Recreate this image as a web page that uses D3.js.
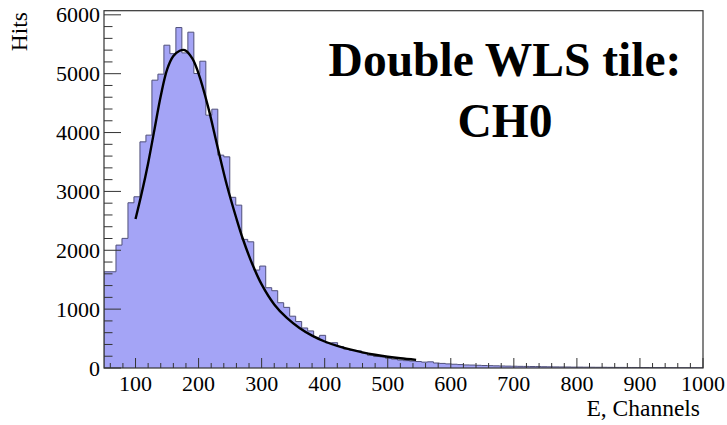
<!DOCTYPE html>
<html>
<head>
<meta charset="utf-8">
<script src="https://cdn.jsdelivr.net/npm/d3@7"></script>
<style>
  body { margin: 0; background: #fff; }
  svg { display: block; }
  text { font-family: "Liberation Serif", "Times New Roman", serif; fill: #000; }
</style>
</head>
<body>
<script>
// histogram: 100 bins of width 9.5 from 50 to 1000
let binStart = 50;
let binWidth = 9.5;
let counts = [
  1635, 1635, 2088, 2202, 2807, 2909, 3842, 3956, 4890, 4992,
  5484, 5340, 5784, 5353, 5705, 5003, 5212, 4295, 4397, 3616,
  3587, 2900, 2767, 2185, 2144, 1664, 1732, 1364, 1313, 1109,
  1030, 880, 790, 680, 630, 521, 555, 425, 430, 365,
  320, 300, 290, 255, 215, 195, 190, 165, 150, 135,
  125, 118, 110, 100, 105, 85, 78, 70, 64, 58,
  52, 50, 46, 42, 40, 37, 34, 32, 30, 28,
  27, 25, 24, 22, 20, 19, 18, 17, 15, 15,
  14, 13, 12, 12, 11, 10, 10, 9, 9, 8,
  8, 7, 7, 7, 6, 6, 5, 5, 5, 4
];

// fit curve
let fitX = [100, 110, 120, 130, 140, 150, 160, 170, 178, 190, 200, 215, 230, 245, 260, 270, 285, 300, 320, 340, 360, 380, 400, 420, 440, 460, 480, 500, 520, 545];
let fitY = [2530, 2980, 3480, 4050, 4620, 5070, 5300, 5390, 5400, 5260, 5000, 4440, 3760, 3100, 2540, 2200, 1770, 1420, 1080, 850, 680, 550, 450, 375, 315, 265, 225, 192, 165, 138];

let xTicks = [100, 200, 300, 400, 500, 600, 700, 800, 900, 1000];
let yTicks = [0, 1000, 2000, 3000, 4000, 5000, 6000];

let W = 727, H = 425;
let frame = { left: 104, right: 703, top: 10.7, bottom: 368 };

let svg = d3.select('body').append('svg').attr('width', W).attr('height', H);

let x = d3.scaleLinear().domain([50, 1000]).range([frame.left, frame.right]);
let y = d3.scaleLinear().domain([0, 6070]).range([frame.bottom, frame.top]);

svg.append('clipPath').attr('id', 'frameClip').append('rect')
  .attr('x', frame.left).attr('y', frame.top)
  .attr('width', frame.right - frame.left).attr('height', frame.bottom - frame.top);

// step outline of the histogram
let pts = [[x(binStart), y(0)]];
counts.forEach(function(c, i) {
  let x0 = binStart + i * binWidth;
  pts.push([x(x0), y(c)]);
  pts.push([x(x0 + binWidth), y(c)]);
});
pts.push([x(binStart + counts.length * binWidth), y(0)]);

let plot = svg.append('g').attr('clip-path', 'url(#frameClip)');

plot.append('path')
  .attr('d', d3.line()(pts))
  .attr('fill', '#a4a4f6')
  .attr('stroke', '#50507a')
  .attr('stroke-width', 1);

let fitLine = d3.line()
  .x(function(d, i) { return x(fitX[i]); })
  .y(function(d) { return y(d); })
  .curve(d3.curveCatmullRom);

plot.append('path')
  .attr('d', fitLine(fitY))
  .attr('fill', 'none')
  .attr('stroke', '#000')
  .attr('stroke-width', 2.4);

// frame
svg.append('rect')
  .attr('x', frame.left).attr('y', frame.top)
  .attr('width', frame.right - frame.left).attr('height', frame.bottom - frame.top)
  .attr('fill', 'none').attr('stroke', '#333').attr('stroke-width', 1.2);

// x ticks (major 100, minor 20)
let xAxis = svg.append('g');
d3.range(60, 1001, 20).forEach(function(v) {
  let major = v % 100 === 0;
  xAxis.append('line')
    .attr('x1', x(v)).attr('x2', x(v))
    .attr('y1', frame.bottom).attr('y2', frame.bottom - (major ? 10 : 5))
    .attr('stroke', '#333').attr('stroke-width', 1);
});
xAxis.selectAll('.xlab').data(xTicks).enter().append('text')
  .attr('x', function(d) { return x(d); })
  .attr('y', 391)
  .attr('text-anchor', 'middle')
  .style('font-size', '22px')
  .text(function(d) { return d; });

// y ticks (major 1000, minor 200)
let yAxis = svg.append('g');
d3.range(0, 6001, 200).forEach(function(v) {
  let major = v % 1000 === 0;
  yAxis.append('line')
    .attr('x1', frame.left).attr('x2', frame.left + (major ? 17 : 8.5))
    .attr('y1', y(v)).attr('y2', y(v))
    .attr('stroke', '#333').attr('stroke-width', 1);
});
yAxis.selectAll('.ylab').data(yTicks).enter().append('text')
  .attr('x', 100)
  .attr('y', function(d) { return y(d) + 7.5; })
  .attr('text-anchor', 'end')
  .style('font-size', '22px')
  .text(function(d) { return d; });

// axis titles
svg.append('text')
  .attr('transform', 'translate(27,12) rotate(-90)')
  .attr('text-anchor', 'end')
  .style('font-size', '23.5px')
  .text('Hits');

svg.append('text')
  .attr('x', 700).attr('y', 416)
  .attr('text-anchor', 'end')
  .style('font-size', '23.5px')
  .text('E, Channels');

// big label
svg.append('text')
  .attr('x', 505).attr('y', 76)
  .attr('text-anchor', 'middle')
  .style('font-size', '47.5px').style('font-weight', 'bold')
  .text('Double WLS tile:');

svg.append('text')
  .attr('x', 505).attr('y', 137)
  .attr('text-anchor', 'middle')
  .style('font-size', '47.5px').style('font-weight', 'bold')
  .text('CH0');
</script>
</body>
</html>
